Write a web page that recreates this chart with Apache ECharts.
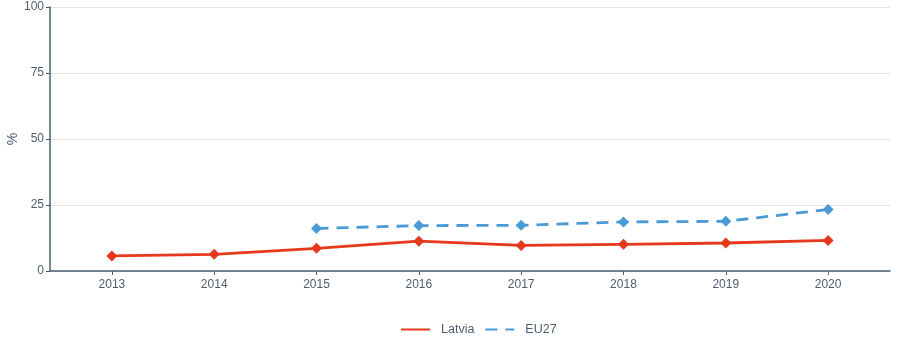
<!DOCTYPE html>
<html><head><meta charset="utf-8">
<script src="https://cdn.jsdelivr.net/npm/echarts@6/dist/echarts.min.js"></script>
<style>html,body{margin:0;padding:0;background:#fff}#c{width:898px;height:359px}</style>
</head><body><div id="c"></div>
<script>
var years = [2013, 2014, 2015, 2016, 2017, 2018, 2019, 2020];
var latvia = [5.7, 6.3, 8.6, 11.3, 9.7, 10.1, 10.6, 11.6];
var eu27 = [null, null, 16.1, 17.2, 17.3, 18.6, 18.8, 23.3];
var yTicks = [0, 25, 50, 75, 100];

function pairs(vals){ return years.map(function(y,i){ return vals[i]==null ? null : [y, vals[i]]; }).filter(function(p){return p;}); }

var chart = echarts.init(document.getElementById('c'), null, {renderer:'canvas'});
var axisCol = '#4a5f73', txt = '#4d5d6e';
chart.setOption({
  animation: false,
  grid: {left: 50, right: 8, top: 7, bottom: 88, containLabel: false, outerBoundsMode: 'none'},
  xAxis: {
    type: 'value', min: 2012.395, max: 2020.605,
    axisLine: {show: true, lineStyle: {color: axisCol, width: 1.5}},
    axisTick: {show: true, customValues: years, length: 4, lineStyle: {color: axisCol}},
    axisLabel: {customValues: years, color: txt, fontSize: 12, fontFamily: 'Liberation Sans, Arial', margin: 8, formatter: function(v){return String(v);}},
    splitLine: {show: false}
  },
  yAxis: {
    type: 'value', min: 0, max: 100, interval: 25,
    name: '%', nameLocation: 'middle', nameGap: 30, nameRotate: 90, nameMoveOverlap: false,
    nameTextStyle: {color: txt, fontSize: 14, fontFamily: 'Liberation Sans, Arial'},
    axisLine: {show: true, lineStyle: {color: axisCol, width: 1.5}},
    axisTick: {show: true, length: 4, lineStyle: {color: axisCol}},
    axisLabel: {color: txt, fontSize: 12, fontFamily: 'Liberation Sans, Arial', margin: 6},
    splitLine: {show: true, lineStyle: {color: '#e3e3e3', width: 1}}
  },
  legend: {
    top: 318, left: 395, itemWidth: 29, itemHeight: 10, itemGap: 10,
    textStyle: {color: txt, fontSize: 12.5, fontFamily: 'Liberation Sans, Arial', padding: [0, 0, 0, 6]},
    itemStyle: {opacity: 0},
    data: ['Latvia', 'EU27']
  },
  series: [
    {name: 'Latvia', type: 'line', data: pairs(latvia), symbol: 'diamond', symbolSize: 11,
     lineStyle: {color: '#e5381c', width: 2.8}, itemStyle: {color: '#e5381c'}},
    {name: 'EU27', type: 'line', data: pairs(eu27), symbol: 'diamond', symbolSize: 11,
     lineStyle: {color: '#4a9bd5', width: 2.8, type: [12, 8]}, itemStyle: {color: '#4a9bd5'}}
  ]
});
</script></body></html>
